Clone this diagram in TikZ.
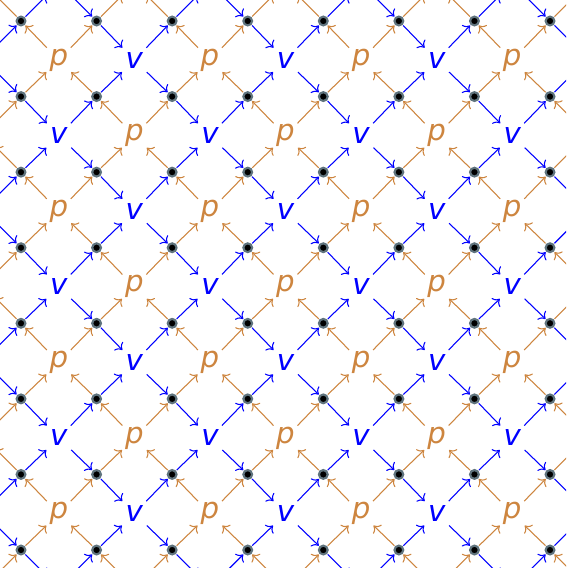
\documentclass[tikz,border=0pt]{standalone}
\usepackage{fontspec}
\setsansfont{DejaVu Sans}
\usepackage{tikz}
\usetikzlibrary{arrows.meta}
\definecolor{pcol}{RGB}{205,133,63}
\definecolor{vcol}{RGB}{0,0,255}
\definecolor{ring}{RGB}{95,115,125}

\begin{document}
\begin{tikzpicture}[
  site/.style={circle, fill=black, draw=ring, line width=0.8pt, inner sep=0pt, minimum size=3.3pt},
  lab/.style={circle, inner sep=0pt, minimum size=12pt, font=\sffamily\itshape\fontsize{11}{13}\selectfont},
  arr/.style={-{To[length=2.2pt,width=4.6pt]}, line width=0.4pt, shorten >=0.3pt, shorten <=0.3pt},
  parr/.style={arr, pcol},
  varr/.style={arr, vcol}]
  \useasboundingbox (-0.278,0.278) rectangle (7.212,-7.238);
  \clip (-0.278,0.278) rectangle (7.212,-7.238);
  % lattice sites
  \foreach \i in {0,...,9}
    \foreach \j in {0,...,9}
      \node[site] (d\i\j) at (\i-1,1-\j) {};
  % plaquettes: p flows up, v flows right
  \foreach \i in {0,...,8}
    \foreach \j in {0,...,8} {
      \pgfmathtruncatemacro{\ii}{\i+1}
      \pgfmathtruncatemacro{\jj}{\j+1}
      \pgfmathtruncatemacro{\parity}{mod(\i+\j,2)}
      \pgfmathtruncatemacro{\inside}{(\i>0)&&(\j>0)&&(\i<8)&&(\j<8)}
      \ifnum\parity=0
        \ifnum\inside=1
          \node[lab, text=pcol, yshift=-0.5pt] (c\i\j) at (\i-0.5,0.5-\j) {p};
        \else
          \node[lab] (c\i\j) at (\i-0.5,0.5-\j) {};
        \fi
        \draw[parr] (d\i\jj) -- (c\i\j);
        \draw[parr] (d\ii\jj) -- (c\i\j);
        \draw[parr] (c\i\j) -- (d\i\j);
        \draw[parr] (c\i\j) -- (d\ii\j);
      \else
        \ifnum\inside=1
          \node[lab, text=vcol, yshift=-0.5pt] (c\i\j) at (\i-0.5,0.5-\j) {v};
        \else
          \node[lab] (c\i\j) at (\i-0.5,0.5-\j) {};
        \fi
        \draw[varr] (d\i\j) -- (c\i\j);
        \draw[varr] (d\i\jj) -- (c\i\j);
        \draw[varr] (c\i\j) -- (d\ii\j);
        \draw[varr] (c\i\j) -- (d\ii\jj);
      \fi
    }
\end{tikzpicture}
\end{document}
